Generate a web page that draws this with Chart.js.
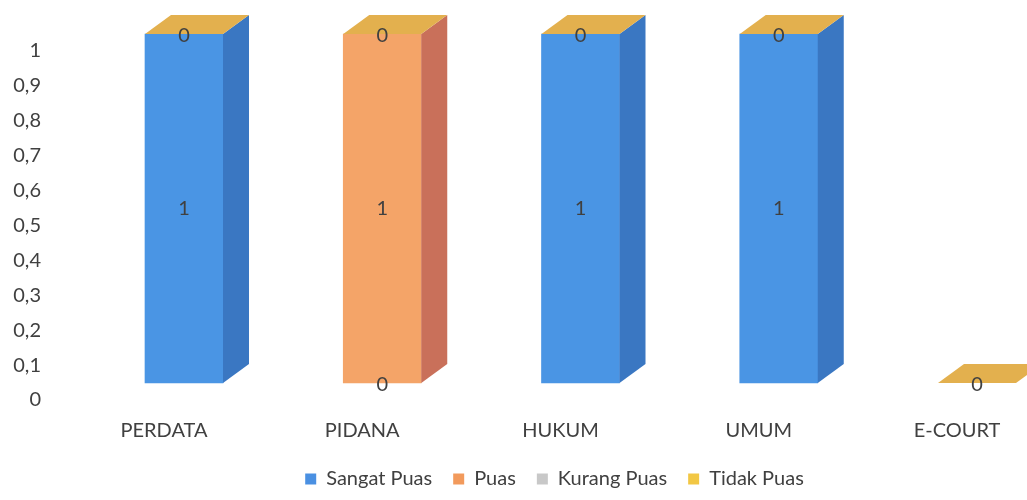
<!DOCTYPE html>
<html><head><meta charset="utf-8">
<script src="https://cdn.jsdelivr.net/npm/chart.js@4.4.0/dist/chart.umd.min.js"></script>
<style>html,body{margin:0;padding:0;background:#fff}</style>
</head><body>
<canvas id="c" width="1027" height="500"></canvas>
<script>
const categories = ['PERDATA', 'PIDANA', 'HUKUM', 'UMUM', 'E-COURT'];
const seriesNames = ['Sangat Puas', 'Puas', 'Kurang Puas', 'Tidak Puas'];
const sangatPuas = [1, 0, 1, 1, 0];
const puas = [0, 1, 0, 0, 0];
const kurangPuas = [0, 0, 0, 0, 0];
const tidakPuas = [0, 0, 0, 0, 0];
const yTickLabels = ['0', '0,1', '0,2', '0,3', '0,4', '0,5', '0,6', '0,7', '0,8', '0,9', '1'];

const frontColors = ['#4A95E4', '#F4A468', '#BFBFBF', '#F2C744'];
const sideColors = ['#3A77C2', '#C9705A', '#9A9A9A', '#C9A13A'];
const topColors = ['#6AAEF0', '#F7B98A', '#D9D9D9', '#E3B04E'];
const legendColors = ['#4A90E2', '#F29A5C', '#C8C8C8', '#F2C744'];

const DX = 26, DY = -19;
const TEXT = '#404040';

const bar3d = {
  id: 'bar3d',
  afterLayout(chart) {
    const lg = chart.legend;
    if (lg) { lg.left += 66; lg.right += 66; }
  },
  afterDatasetsDraw(chart) {
    const ctx = chart.ctx;
    const sets = chart.data.datasets;
    ctx.save();
    for (let i = 0; i < categories.length; i++) {
      let top = Infinity, left = 0, right = 0;
      sets.forEach((ds, d) => {
        const el = chart.getDatasetMeta(d).data[i];
        const p = el.getProps(['x', 'y', 'base', 'width'], true);
        left = p.x - p.width / 2; right = p.x + p.width / 2;
        top = Math.min(top, p.y, p.base);
        if (Math.abs(p.base - p.y) > 0.5) {
          ctx.fillStyle = sideColors[d];
          ctx.beginPath();
          ctx.moveTo(right, p.y);
          ctx.lineTo(right + DX, p.y + DY);
          ctx.lineTo(right + DX, p.base + DY);
          ctx.lineTo(right, p.base);
          ctx.closePath();
          ctx.fill();
        }
      });
      const last = sets.length - 1;
      ctx.fillStyle = topColors[last];
      ctx.beginPath();
      ctx.moveTo(left, top);
      ctx.lineTo(left + DX, top + DY);
      ctx.lineTo(right + DX, top + DY);
      ctx.lineTo(right, top);
      ctx.closePath();
      ctx.fill();
    }
    const seen = new Set();
    ctx.font = '20px Lato';
    ctx.fillStyle = TEXT;
    ctx.textAlign = 'center';
    ctx.textBaseline = 'middle';
    sets.forEach((ds, d) => {
      ds.data.forEach((v, i) => {
        const el = chart.getDatasetMeta(d).data[i];
        const p = el.getProps(['x', 'y', 'base'], true);
        const ly = v ? (p.y + p.base) / 2 : p.y + 2;
        const key = Math.round(p.x) + '_' + Math.round(ly);
        if (seen.has(key)) return;
        seen.add(key);
        ctx.fillText(String(v).replace('.', ','), p.x, ly);
      });
    });
    ctx.restore();
  }
};

const seriesData = [sangatPuas, puas, kurangPuas, tidakPuas];

new Chart(document.getElementById('c'), {
  type: 'bar',
  data: {
    labels: categories,
    datasets: seriesNames.map((name, k) => ({
      label: name,
      data: seriesData[k],
      backgroundColor: (c) => (c.raw ? frontColors[k] : 'rgba(0,0,0,0)'),
      borderWidth: 0,
      barThickness: 78,
      clip: false
    }))
  },
  options: {
    responsive: false,
    animation: false,
    devicePixelRatio: 1,
    layout: { padding: { left: 0, right: 50, top: 34, bottom: 1 } },
    scales: {
      x: {
        stacked: true,
        offset: false,
        grid: { display: false, drawTicks: false },
        border: { display: false },
        ticks: { padding: 36, labelOffset: -20, color: TEXT, font: { family: 'Lato', size: 20 }, maxRotation: 0, autoSkip: false },
        afterFit(scale) { scale.height = 65; scale.paddingLeft = 0; scale.paddingRight = 0; }
      },
      y: {
        stacked: true,
        min: 0, max: 1,
        grid: { display: false, drawTicks: false },
        border: { display: false },
        ticks: {
          stepSize: 0.1, padding: 143, labelOffset: 17, color: TEXT, autoSkip: false,
          font: { family: 'Lato', size: 20 },
          callback: (v, idx) => yTickLabels[idx]
        },
        afterFit(scale) { scale.width = 184; scale.paddingTop = 0; scale.paddingBottom = 0; }
      }
    },
    plugins: {
      legend: {
        position: 'bottom',
        labels: {
          boxWidth: 11, boxHeight: 11, padding: 21, color: TEXT, font: { family: 'Lato', size: 20 },
          generateLabels: (chart) => chart.data.datasets.map((ds, i) => ({
            text: ds.label, fillStyle: legendColors[i], strokeStyle: legendColors[i],
            lineWidth: 0, hidden: false, datasetIndex: i, fontColor: TEXT
          }))
        }
      },
      tooltip: { enabled: false }
    }
  },
  plugins: [bar3d]
});
</script>
</body></html>
